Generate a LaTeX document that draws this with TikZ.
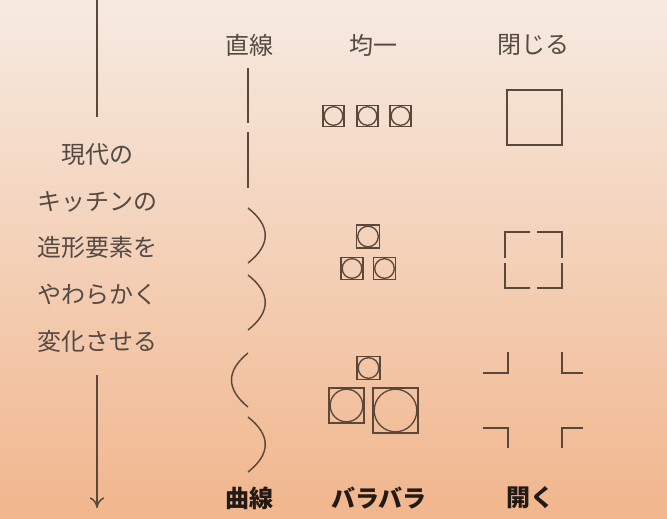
\documentclass[tikz,border=0pt]{standalone}
\usepackage{fontspec}
\usetikzlibrary{arrows.meta}
\newfontfamily\jp{Noto Sans CJK JP}
\definecolor{bgtop}{RGB}{246,234,225}
\definecolor{bgbot}{RGB}{241,182,141}
\definecolor{ink}{RGB}{92,72,58}
\definecolor{graytxt}{RGB}{84,74,68}
\definecolor{darktxt}{RGB}{35,26,22}
\tikzset{
  head/.style={font=\jp\fontsize{18}{20}\selectfont,text=graytxt,inner sep=0pt},
  foot/.style={font=\jp\bfseries\fontsize{18}{20}\selectfont,text=darktxt,inner sep=0pt},
  markline/.style={draw=ink,line width=1.3pt},
}
% square with a circle inside
\newcommand\boxcirc[3]{%
  \draw[ink,line width=1.4pt](#1-#3/2,#2-#3/2)rectangle(#1+#3/2,#2+#3/2);
  \draw[ink,line width=1pt](#1,#2)circle(#3/2-1.2);}
\begin{document}
\begin{tikzpicture}[x=0.75pt,y=-0.75pt]
 \shade[top color=bgtop,bottom color=bgbot](0,0)rectangle(667,518);
 \useasboundingbox(0,0)rectangle(667,518);
 % left arrow and text
 \coordinate(a0)at(97,0);
 \coordinate(a1)at(97,117);
 \coordinate(a2)at(97,375);
 \coordinate(a3)at(97,508);
 \draw[ink,line width=1.1pt](a0)--(a1);
 \draw[ink,line width=1.1pt,-{To[length=8pt,width=11pt]}](a2)--(a3);
 \node[head,align=center,font=\jp\fontsize{18}{34.9}\selectfont](txt)at(97,248){現代の\\キッチンの\\造形要素を\\やわらかく\\変化させる};
 % headings
 \node[head](h1)at(249,45){直線};
 \node[head](h2)at(373,45){均一};
 \node[head](h3)at(533,45){閉じる};
 \node[foot](f1)at(249,498){曲線};
 \node[foot](f2)at(379,498){バラバラ};
 \node[foot](f3)at(530,498){開く};
 % line column
 \draw[ink,line width=1.1pt](248,68)--(248,123) (248,132)--(248,188);
 \draw[ink,line width=1.1pt](248,208)..controls(271,226)and(271,245)..(248,263);
 \draw[ink,line width=1.1pt](248,275)..controls(271,293)and(271,312)..(248,330);
 \draw[ink,line width=1.1pt](248,353)..controls(226,371)and(226,389)..(248,407);
 \draw[ink,line width=1.1pt](248,417)..controls(271,435)and(271,454)..(248,472);
 % boxes
 \boxcirc{333.5}{116}{21}\boxcirc{367.5}{116}{21}\boxcirc{400.5}{116}{21}
 \boxcirc{368}{236.5}{23}\boxcirc{352}{268.5}{22}\boxcirc{384.5}{268.5}{22}
 \boxcirc{368.5}{368}{23}\boxcirc{346.5}{405.5}{35}\boxcirc{395.5}{410.5}{45}
 % closed / opened square
 \draw[markline](507,90)rectangle(562,145);
 \draw[markline](505,258)--(505,232)--(530,232) (537,232)--(562,232)--(562,258)
   (562,263)--(562,288)--(537,288) (530,288)--(505,288)--(505,263);
 \draw[markline](483,373)--(508,373)--(508,352) (562,352)--(562,373)--(583,373)
   (483,428)--(508,428)--(508,448) (562,448)--(562,428)--(583,428);
\end{tikzpicture}
\end{document}
